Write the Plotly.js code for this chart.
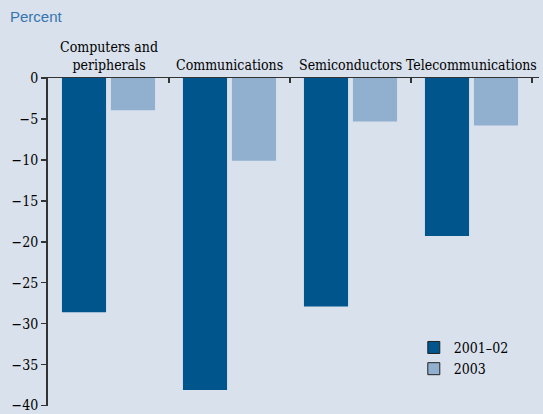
<!DOCTYPE html>
<html>
<head>
<meta charset="utf-8">
<script src="https://cdn.plot.ly/plotly-3.0.1.min.js"></script>
<style>html,body{margin:0;padding:0;background:#d9e1ec;}</style>
</head>
<body>
<div id="chart" style="width:543px;height:414px;"></div>
<script>
const categories = ["Computers and<br>peripherals", "Communications", "Semiconductors", "Telecommunications"];
const series2001_02 = [-28.6, -38.1, -27.9, -19.3];
const series2003 = [-3.95, -10.1, -5.3, -5.8];
const seriesNames = ["2001\u201302", "2003"];
const yTickVals = [0, -5, -10, -15, -20, -25, -30, -35, -40];

const darkBlue = "#00568c";
const lightBlue = "#91afce";
const serif = "DejaVu Serif Condensed, Liberation Serif, serif";

const traces = [
  {type: "bar", x: categories, y: series2001_02, name: seriesNames[0], showlegend: false,
   offsetgroup: "a", marker: {color: darkBlue}},
  {type: "bar", x: categories, y: series2003, name: seriesNames[1], showlegend: false,
   offsetgroup: "b", marker: {color: lightBlue}},
  {type: "bar", x: [categories[0]], y: [null], name: seriesNames[0], showlegend: true,
   offsetgroup: "a", marker: {color: darkBlue, line: {color: "#222", width: 1}}},
  {type: "bar", x: [categories[0]], y: [null], name: seriesNames[1], showlegend: true,
   offsetgroup: "b", marker: {color: lightBlue, line: {color: "#222", width: 1}}}
];

const catAnnotations = categories.map((c, i) => ({
  text: c, xref: "x", yref: "paper", x: i, y: 1.009,
  xanchor: "center", yanchor: "bottom", showarrow: false,
  font: {family: serif, size: 14, color: "#000"}
}));

const layout = {
  width: 543, height: 414,
  paper_bgcolor: "#d9e1ec", plot_bgcolor: "#d9e1ec",
  margin: {l: 48, r: 4, t: 78, b: 8},
  barmode: "group", bargap: 0.19, bargroupgap: 0.1,
  showlegend: true,
  legend: {x: 0.745, y: 0.226, xanchor: "left", yanchor: "top",
           bgcolor: "rgba(0,0,0,0)", font: {family: serif, size: 14, color: "#000"},
           tracegroupgap: 0, itemwidth: 30},
  xaxis: {
    type: "category", side: "top", tickson: "boundaries",
    ticks: "inside", ticklen: 5, tickcolor: "#333", tickwidth: 1.5,
    showline: true, linecolor: "#333", linewidth: 1.5,
    showgrid: false, zeroline: false, showticklabels: false,
    fixedrange: true
  },
  yaxis: {
    range: [-40.05, 0], tickvals: yTickVals,
    ticks: "outside", ticklen: 5, tickcolor: "#333", tickwidth: 1.5,
    showline: true, linecolor: "#333", linewidth: 2,
    showgrid: false, zeroline: false,
    tickfont: {family: serif, size: 14, color: "#000"},
    ticklabelstandoff: 0
  },
  annotations: catAnnotations.concat([
    {text: "Percent", xref: "paper", yref: "paper", x: -0.082, y: 1.186,
     xanchor: "left", yanchor: "middle", showarrow: false,
     font: {family: "Liberation Sans, Arial, sans-serif", size: 15, color: "#3476b0"}}
  ])
};

Plotly.newPlot("chart", traces, layout, {displayModeBar: false, staticPlot: true});
</script>
</body>
</html>
